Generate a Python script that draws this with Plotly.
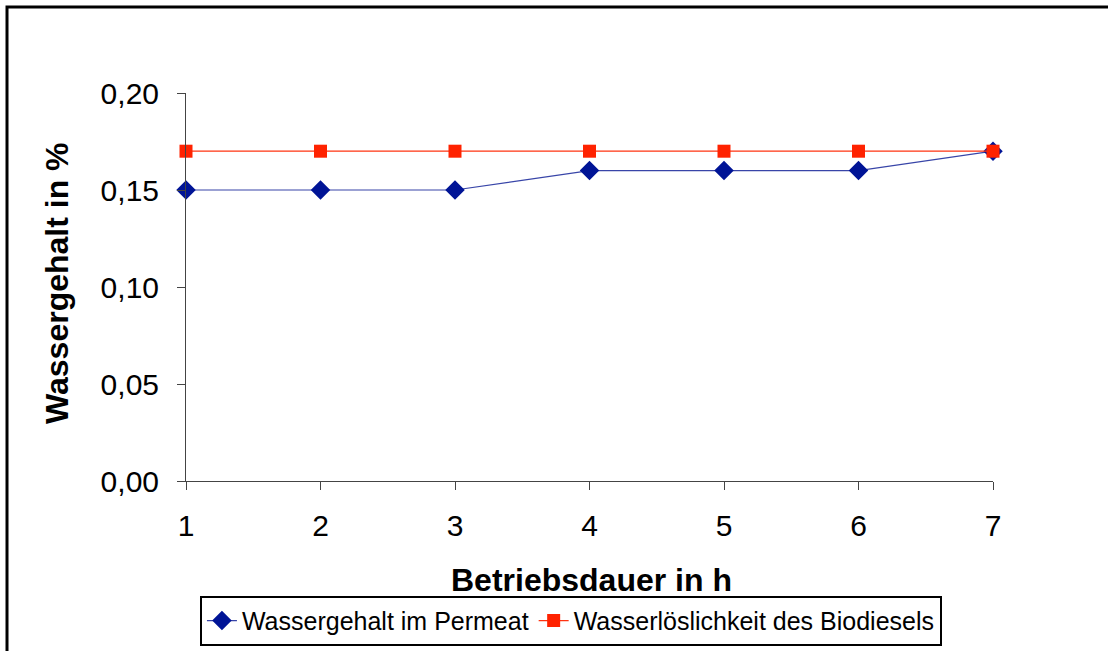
import plotly.graph_objects as go

hours = [1, 2, 3, 4, 5, 6, 7]
wassergehalt = [0.15, 0.15, 0.15, 0.16, 0.16, 0.16, 0.17]
loeslichkeit = [0.17, 0.17, 0.17, 0.17, 0.17, 0.17, 0.17]
y_ticks = [0.00, 0.05, 0.10, 0.15, 0.20]

FONT = "Liberation Sans, Arial, sans-serif"

fig = go.Figure()
fig.add_trace(go.Scatter(
    x=hours, y=wassergehalt, mode="lines+markers",
    name="Wassergehalt im Permeat",
    line=dict(color="#3845a8", width=1.2),
    marker=dict(symbol="diamond", size=15, color="#001496"),
    cliponaxis=False,
))
fig.add_trace(go.Scatter(
    x=hours, y=loeslichkeit, mode="lines+markers",
    name="Wasserlöslichkeit des Biodiesels",
    line=dict(color="#ff3311", width=1.2),
    marker=dict(symbol="square", size=13, color="#ff2200"),
    cliponaxis=False,
))

fig.update_layout(
    width=1108, height=651,
    margin=dict(l=186, r=115, t=93, b=170, autoexpand=False),
    paper_bgcolor="white", plot_bgcolor="white",
    separators=",.",
    font=dict(family=FONT, color="black"),
    showlegend=True,
    legend=dict(
        orientation="h", x=0.477, xanchor="center", y=-0.296, yanchor="top",
        bordercolor="black", borderwidth=2, font=dict(size=25, family=FONT),
        tracegroupgap=0,
    ),
    xaxis=dict(
        range=[1, 7], tickmode="array", tickvals=hours,
        showgrid=False, zeroline=False, showline=True, linecolor="#444", linewidth=1,
        ticks="outside", ticklen=8, tickcolor="#444", ticklabelstandoff=10,
        tickfont=dict(size=30, family=FONT),
    ),
    yaxis=dict(
        range=[0, 0.20], tickmode="array", tickvals=y_ticks, tickformat=".2f",
        showgrid=False, zeroline=False, showline=True, linecolor="#444", linewidth=1,
        ticks="outside", ticklen=8, tickcolor="#444", ticklabelstandoff=12,
        tickfont=dict(size=30, family=FONT),
    ),
    annotations=[
        dict(text="<b>Betriebsdauer in h</b>", xref="paper", yref="paper",
             x=0.503, y=-0.256, xanchor="center", yanchor="middle", showarrow=False,
             font=dict(size=32, family=FONT)),
        dict(text="<b>Wassergehalt in %</b>", xref="paper", yref="paper",
             x=-0.16, y=0.51, xanchor="center", yanchor="middle", showarrow=False,
             textangle=-90, font=dict(size=32, family=FONT)),
    ],
    shapes=[
        dict(type="rect", xref="paper", yref="paper",
             x0=-0.2218, y0=-0.47, x1=1.16, y1=1.2216,
             line=dict(color="black", width=3), layer="below"),
    ],
)

fig.write_html("out.html")
